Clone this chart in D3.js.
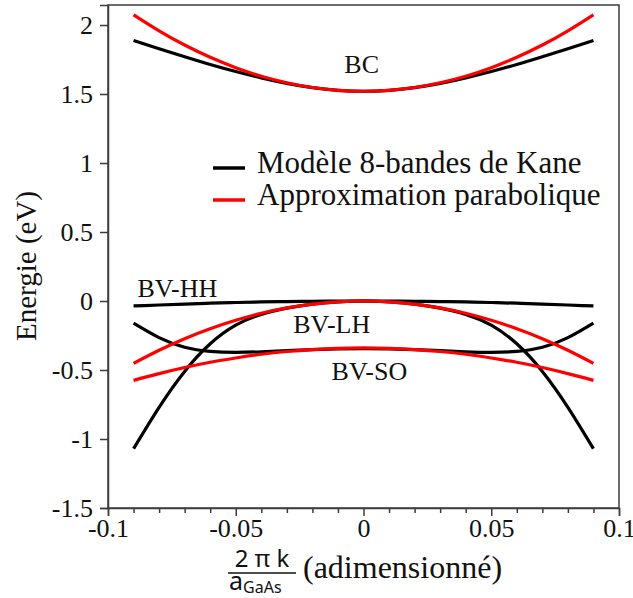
<!DOCTYPE html>
<html>
<head>
<meta charset="utf-8">
<script src="https://cdn.jsdelivr.net/npm/d3@7"></script>
<style>
  html, body { margin: 0; padding: 0; background: #fff; }
  svg { display: block; }
</style>
</head>
<body>
<svg id="chart" width="633" height="598"></svg>
<script>
// ---- data ----
const kValues = [-0.09, -0.08, -0.07, -0.06, -0.05, -0.04, -0.03, -0.02, -0.01, 0,
                  0.01, 0.02, 0.03, 0.04, 0.05, 0.06, 0.07, 0.08, 0.09];

// Modèle 8-bandes de Kane (black)
const kaneBC = [1.888, 1.828, 1.770, 1.714, 1.663, 1.617, 1.577, 1.546, 1.527, 1.520,
                1.527, 1.546, 1.577, 1.617, 1.663, 1.714, 1.770, 1.828, 1.888];
const kaneHH = [-0.036, -0.029, -0.022, -0.016, -0.011, -0.007, -0.004, -0.002, -0.0005, 0,
                -0.0005, -0.002, -0.004, -0.007, -0.011, -0.016, -0.022, -0.029, -0.036];
const kaneLH = [-1.07, -0.77, -0.51, -0.31, -0.175, -0.097, -0.052, -0.022, -0.006, 0,
                -0.006, -0.022, -0.052, -0.097, -0.175, -0.31, -0.51, -0.77, -1.07];
const kaneSO = [-0.16, -0.265, -0.335, -0.365, -0.372, -0.368, -0.36, -0.352, -0.347, -0.345,
                -0.347, -0.352, -0.36, -0.368, -0.372, -0.365, -0.335, -0.265, -0.16];

// Approximation parabolique (red)
const paraBC = [2.074, 1.958, 1.855, 1.766, 1.691, 1.629, 1.582, 1.547, 1.527, 1.520,
                1.527, 1.547, 1.582, 1.629, 1.691, 1.766, 1.855, 1.958, 2.074];
const paraLH = [-0.452, -0.357, -0.273, -0.201, -0.140, -0.089, -0.050, -0.022, -0.006, 0,
                -0.006, -0.022, -0.050, -0.089, -0.140, -0.201, -0.273, -0.357, -0.452];
const paraSO = [-0.575, -0.526, -0.482, -0.444, -0.413, -0.386, -0.366, -0.352, -0.343, -0.340,
                -0.343, -0.352, -0.366, -0.386, -0.413, -0.444, -0.482, -0.526, -0.575];

const xTicks = [-0.1, -0.05, 0, 0.05, 0.1];
const xTickLabels = ["-0.1", "-0.05", "0", "0.05", "0.1"];
const xMinorTicks = [-0.09, -0.08, -0.07, -0.06, -0.04, -0.03, -0.02, -0.01,
                     0.01, 0.02, 0.03, 0.04, 0.06, 0.07, 0.08, 0.09];
const yTicks = [-1.5, -1, -0.5, 0, 0.5, 1, 1.5, 2];
const yTickLabels = ["-1.5", "-1", "-0.5", "0", "0.5", "1", "1.5", "2"];

const legendLabels = ["Modèle 8-bandes de Kane", "Approximation parabolique"];
const bandLabels = [
  { text: "BC", k: -0.0075, e: 1.65 },
  { text: "BV-HH", k: -0.0885, e: 0.03 },
  { text: "BV-LH", k: -0.0275, e: -0.235 },
  { text: "BV-SO", k: -0.0125, e: -0.57 }
];

// ---- drawing ----
const svg = d3.select("#chart");
const serif = "'Liberation Serif', 'Times New Roman', serif";
const sans = "'Noto Sans', 'Open Sans', sans-serif";
const axisColor = "#3c3c3c";

const x = d3.scaleLinear().domain([-0.1, 0.1]).range([108, 619]);
const y = d3.scaleLinear().domain([-1.5, 2.145]).range([508, 5]);

// frame
svg.append("rect")
  .attr("x", x(-0.1)).attr("y", y(2.145))
  .attr("width", x(0.1) - x(-0.1)).attr("height", y(-1.5) - y(2.145))
  .attr("fill", "none").attr("stroke", axisColor).attr("stroke-width", 1.5);

// x axis (major + minor)
const xAxis = svg.append("g").attr("transform", `translate(0,${y(-1.5)})`)
  .call(d3.axisBottom(x).tickValues(xTicks).tickFormat((d, i) => xTickLabels[i])
        .tickSize(8).tickPadding(3));
xAxis.select(".domain").attr("stroke", axisColor).attr("stroke-width", 1.5);
xAxis.selectAll(".tick line").attr("stroke", axisColor).attr("stroke-width", 1.5);
xAxis.selectAll(".tick text").attr("font-family", serif).attr("font-size", 26).attr("fill", "#111");

const xMinor = svg.append("g").attr("transform", `translate(0,${y(-1.5)})`)
  .call(d3.axisBottom(x).tickValues(xMinorTicks).tickFormat("").tickSize(5));
xMinor.select(".domain").remove();
xMinor.selectAll(".tick line").attr("stroke", axisColor).attr("stroke-width", 1.5);

// y axis
const yAxis = svg.append("g").attr("transform", `translate(${x(-0.1)},0)`)
  .call(d3.axisLeft(y).tickValues(yTicks).tickFormat((d, i) => yTickLabels[i])
        .tickSize(8).tickPadding(7));
yAxis.select(".domain").attr("stroke", axisColor).attr("stroke-width", 1.5);
yAxis.selectAll(".tick line").attr("stroke", axisColor).attr("stroke-width", 1.5);
yAxis.selectAll(".tick text").attr("font-family", serif).attr("font-size", 26).attr("fill", "#111");

// curves
const line = d3.line()
  .x((d, i) => x(kValues[i]))
  .y(d => y(d))
  .curve(d3.curveNatural);

const blackSeries = [kaneBC, kaneHH, kaneLH, kaneSO];
const redSeries = [paraBC, paraLH, paraSO];

svg.append("g").selectAll("path").data(blackSeries).join("path")
  .attr("d", d => line(d)).attr("fill", "none")
  .attr("stroke", "#000").attr("stroke-width", 3.2).attr("stroke-linecap", "butt");
svg.append("g").selectAll("path").data(redSeries).join("path")
  .attr("d", d => line(d)).attr("fill", "none")
  .attr("stroke", "#ff0000").attr("stroke-width", 3.2).attr("stroke-linecap", "butt");

// band labels
svg.append("g").selectAll("text").data(bandLabels).join("text")
  .attr("x", d => x(d.k)).attr("y", d => y(d.e))
  .attr("font-family", serif).attr("font-size", 26).attr("fill", "#111")
  .text(d => d.text);

// legend
const legendColors = ["#000", "#ff0000"];
const lg = svg.append("g");
legendLabels.forEach((t, i) => {
  const by = 173 + i * 32;
  lg.append("line").attr("x1", 213).attr("x2", 245)
    .attr("y1", by - 5).attr("y2", by - 5)
    .attr("stroke", legendColors[i]).attr("stroke-width", 3.5);
  lg.append("text").attr("x", 257).attr("y", by)
    .attr("font-family", serif).attr("font-size", 31).attr("fill", "#111").text(t);
});

// y axis title
svg.append("text")
  .attr("transform", "translate(36,266) rotate(-90)")
  .attr("text-anchor", "middle")
  .attr("font-family", serif).attr("font-size", 29).attr("fill", "#111")
  .text("Energie (eV)");

// x axis title: fraction 2πk / a_GaAs + (adimensionné)
const xt = svg.append("g");
xt.append("text").attr("x", 262).attr("y", 567).attr("text-anchor", "middle")
  .attr("font-family", sans).attr("font-size", 24).attr("fill", "#111").text("2 π k");
xt.append("line").attr("x1", 228).attr("x2", 296).attr("y1", 573).attr("y2", 573)
  .attr("stroke", "#111").attr("stroke-width", 1.5);
const den = xt.append("text").attr("x", 229).attr("y", 590)
  .attr("font-family", sans).attr("font-size", 25).attr("fill", "#111");
den.append("tspan").text("a");
den.append("tspan").attr("font-size", 16).attr("dy", 3).text("GaAs");
xt.append("text").attr("x", 303).attr("y", 578)
  .attr("font-family", serif).attr("font-size", 32).attr("fill", "#111").text("(adimensionné)");
</script>
</body>
</html>
